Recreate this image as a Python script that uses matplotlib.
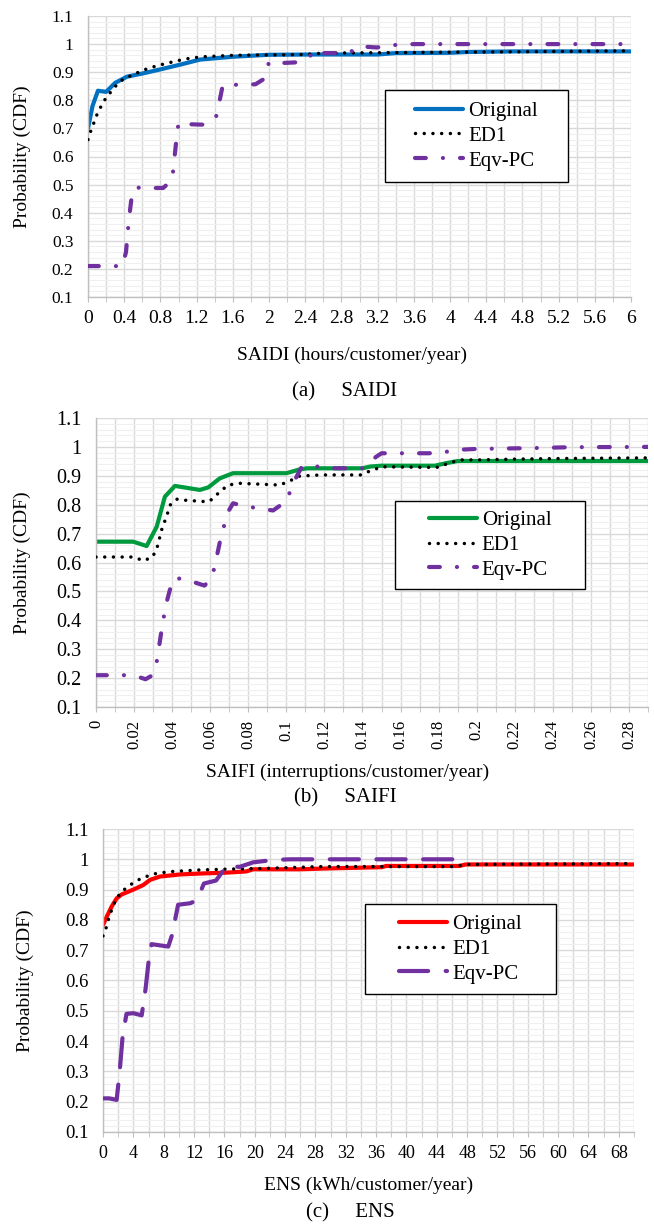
import matplotlib
matplotlib.use('Agg')
import matplotlib.pyplot as plt
from matplotlib.patches import Rectangle
from matplotlib.ticker import MultipleLocator, FuncFormatter

plt.rcParams['font.family'] = ['Liberation Serif', 'DejaVu Serif']

# ---- data ----
# (a) SAIDI
saidi_orig_x = [0, 0.05, 0.11, 0.2, 0.3, 0.43, 0.61, 0.8, 1.02, 1.24, 1.6, 2.0, 2.5, 3.2, 3.4, 4.0, 4.2, 4.7, 6.0]
saidi_orig_y = [0.70, 0.78, 0.834, 0.83, 0.862, 0.884, 0.896, 0.91, 0.927, 0.945, 0.955, 0.962, 0.963, 0.963, 0.968, 0.969, 0.972, 0.974, 0.974]
saidi_ed1_x = [0, 0.03, 0.1, 0.17, 0.24, 0.33, 0.41, 0.5, 0.58, 0.7, 0.8, 0.9, 1.02, 1.13, 1.27, 1.6, 2.4, 2.6, 4.0, 6.0]
saidi_ed1_y = [0.66, 0.69, 0.75, 0.795, 0.825, 0.86, 0.88, 0.89, 0.904, 0.917, 0.926, 0.934, 0.943, 0.95, 0.955, 0.96, 0.963, 0.968, 0.971, 0.976]
saidi_pc_x = [0, 0.2, 0.38, 0.42, 0.45, 0.48, 0.52, 0.6, 0.83, 0.93, 0.97, 1.0, 1.1, 1.3, 1.42, 1.49, 1.6, 1.85, 1.94, 2.0, 2.1, 2.3, 2.43, 2.52, 2.58, 2.75, 2.9, 3.0, 3.19, 3.4, 3.6, 6.0]
saidi_pc_y = [0.21, 0.21, 0.21, 0.26, 0.37, 0.45, 0.49, 0.488, 0.488, 0.516, 0.64, 0.72, 0.715, 0.713, 0.745, 0.855, 0.855, 0.857, 0.875, 0.935, 0.932, 0.935, 0.95, 0.98, 0.968, 0.968, 0.972, 0.992, 0.988, 0.997, 1.0, 1.0]

# (b) SAIFI
saifi_orig_x = [0, 0.0196, 0.0266, 0.0319, 0.0362, 0.0415, 0.0546, 0.059, 0.065, 0.072, 0.10, 0.107, 0.111, 0.14, 0.144, 0.15, 0.178, 0.185, 0.19, 0.29]
saifi_orig_y = [0.672, 0.672, 0.657, 0.724, 0.828, 0.865, 0.851, 0.86, 0.891, 0.909, 0.909, 0.922, 0.926, 0.926, 0.932, 0.935, 0.935, 0.945, 0.951, 0.951]
saifi_ed1_x = [0, 0.0196, 0.025, 0.0297, 0.032, 0.0347, 0.037, 0.039, 0.0425, 0.0475, 0.059, 0.0616, 0.065, 0.0695, 0.0756, 0.0966, 0.102, 0.107, 0.118, 0.139, 0.143, 0.15, 0.179, 0.186, 0.191, 0.2016, 0.2226, 0.249, 0.29]
saifi_ed1_y = [0.619, 0.619, 0.606, 0.619, 0.649, 0.718, 0.758, 0.799, 0.819, 0.815, 0.81, 0.822, 0.845, 0.868, 0.874, 0.868, 0.883, 0.899, 0.903, 0.903, 0.914, 0.931, 0.929, 0.945, 0.955, 0.955, 0.958, 0.96, 0.962]
saifi_pc_x = [0, 0.015, 0.022, 0.026, 0.0297, 0.032, 0.035, 0.037, 0.0402, 0.042, 0.05, 0.057, 0.061, 0.0628, 0.066, 0.0698, 0.072, 0.078, 0.093, 0.1, 0.104, 0.108, 0.113, 0.12, 0.14, 0.143, 0.147, 0.15, 0.175, 0.183, 0.19, 0.2, 0.23, 0.25, 0.29]
saifi_pc_y = [0.21, 0.21, 0.205, 0.196, 0.21, 0.26, 0.39, 0.46, 0.54, 0.547, 0.535, 0.52, 0.55, 0.6, 0.7, 0.78, 0.805, 0.795, 0.78, 0.812, 0.88, 0.93, 0.937, 0.926, 0.926, 0.94, 0.965, 0.978, 0.978, 0.982, 0.99, 0.993, 0.996, 0.999, 1.0]

# (c) ENS
ens_orig_x = [0, 0.48, 1.14, 1.8, 2.46, 4.0, 5.3, 6.2, 7.5, 10.1, 12.8, 16.3, 18.9, 19.8, 25.9, 29.9, 36.8, 37.3, 47.0, 47.8, 70]
ens_orig_y = [0.783, 0.81, 0.844, 0.871, 0.884, 0.9, 0.915, 0.932, 0.943, 0.95, 0.953, 0.956, 0.96, 0.967, 0.967, 0.97, 0.974, 0.978, 0.978, 0.983, 0.983]
ens_ed1_x = [0, 0.39, 0.7, 1.14, 1.7, 2.46, 3.3, 4.2, 5.3, 7.1, 9.25, 12.8, 17.1, 21.5, 28.9, 46, 48, 70]
ens_ed1_y = [0.747, 0.772, 0.8, 0.833, 0.868, 0.893, 0.91, 0.926, 0.94, 0.954, 0.96, 0.965, 0.968, 0.97, 0.976, 0.976, 0.983, 0.986]
ens_pc_x = [0, 0.8, 1.8, 2.2, 2.6, 3.1, 4.0, 5.1, 5.6, 6.0, 6.4, 8.6, 9.1, 9.9, 11.5, 12.4, 13.3, 14.9, 16.3, 18.0, 19.8, 21.5, 22.5, 24.7, 47.4]
ens_pc_y = [0.211, 0.211, 0.206, 0.3, 0.42, 0.49, 0.492, 0.485, 0.57, 0.66, 0.72, 0.712, 0.75, 0.85, 0.855, 0.865, 0.92, 0.93, 0.978, 0.975, 0.99, 0.995, 0.998, 1.0, 1.0]

series_names = ['Original', 'ED1', 'Eqv-PC']
purple = '#7030A0'

W, H = 654, 1225
fig = plt.figure(figsize=(W / 100, H / 100), dpi=100)


def px_axes(left, top, right, bottom):
    return fig.add_axes([left / W, 1 - bottom / H, (right - left) / W, (bottom - top) / H])


def style_axes(ax, xmax, xmajor, xminor, xfont, yfont, xrot=0):
    ax.set_xlim(0, xmax)
    ax.set_ylim(0.1, 1.1)
    ax.xaxis.set_major_locator(MultipleLocator(xmajor))
    ax.xaxis.set_minor_locator(MultipleLocator(xminor))
    ax.yaxis.set_major_locator(MultipleLocator(0.1))
    ax.yaxis.set_minor_locator(MultipleLocator(0.02))
    fmt = FuncFormatter(lambda v, p: '%g' % round(v, 4))
    ax.xaxis.set_major_formatter(fmt)
    ax.yaxis.set_major_formatter(fmt)
    ax.grid(True, which='major', axis='both', color='#D9D9D9', lw=1.0, zorder=0)
    ax.grid(True, which='minor', axis='x', color='#D9D9D9', lw=1.0, zorder=0)
    ax.grid(True, which='minor', axis='y', color='#EFEFEF', lw=0.8, zorder=0)
    ax.set_axisbelow(True)
    for s in ['top', 'right']:
        ax.spines[s].set_visible(False)
    for s in ['left', 'bottom']:
        ax.spines[s].set_color('#BFBFBF')
        ax.spines[s].set_linewidth(1.0)
    ax.tick_params(axis='y', which='both', length=0, pad=10.5, labelsize=yfont)
    ax.tick_params(axis='x', which='both', length=3.6, color='#BFBFBF', direction='out',
                   pad=5.5, labelsize=xfont, labelrotation=xrot)


def add_legend(ax, handles, box):
    x0, y0, x1, y1 = box
    ax.add_patch(Rectangle((x0, y0), x1 - x0, y1 - y0, transform=ax.transAxes,
                           facecolor='white', edgecolor='black', lw=1.0, zorder=5))
    leg = ax.legend(handles, series_names, loc='center', frameon=False,
                    bbox_to_anchor=((x0 + x1) / 2, (y0 + y1) / 2), fontsize=15,
                    handlelength=2.3, handletextpad=0.25, labelspacing=0.25)
    leg.set_zorder(6)


def draw(ax, ox, oy, ex, ey, px, py, color, pc_dashes):
    l1, = ax.plot(ox, oy, color=color, lw=3.0, solid_capstyle='round', zorder=2)
    l2, = ax.plot(ex, ey, color='black', lw=2.5, dashes=(0.01, 2.5),
                  dash_capstyle='round', zorder=3)
    l3, = ax.plot(px, py, color=purple, lw=3.0, dashes=pc_dashes,
                  dash_capstyle='round', zorder=4)
    return [l1, l2, l3]


dashdot = (2.6, 4.1, 0.01, 4.1)
longdash = (7.0, 4.2)

# (a)
ax1 = px_axes(88, 16, 631, 297)
style_axes(ax1, 6, 0.4, 0.2, 14, 12.5)
h = draw(ax1, saidi_orig_x, saidi_orig_y, saidi_ed1_x, saidi_ed1_y,
         saidi_pc_x, saidi_pc_y, '#0070C0', dashdot)
add_legend(ax1, h, (0.547, 0.409, 0.884, 0.737))
ax1.set_xlabel('SAIDI (hours/customer/year)', fontsize=14, va='center')
ax1.xaxis.set_label_coords(0.486, -58 / 281)
ax1.set_ylabel('Probability (CDF)', fontsize=14, va='center')
ax1.yaxis.set_label_coords(-66 / 543, 0.5)
fig.text(345 / W, 1 - 392 / H, '(a)     SAIDI', ha='center', va='center', fontsize=15)

# (b)
ax2 = px_axes(96, 418, 648, 707)
style_axes(ax2, 0.29, 0.02, 0.01, 12, 14.5, xrot=90)
h = draw(ax2, saifi_orig_x, saifi_orig_y, saifi_ed1_x, saifi_ed1_y,
         saifi_pc_x, saifi_pc_y, '#009A3E', dashdot)
add_legend(ax2, h, (0.5417, 0.408, 0.886, 0.7128))
ax2.set_xlabel('SAIFI (interruptions/customer/year)', fontsize=14, va='center')
ax2.xaxis.set_label_coords(0.455, -65 / 289)
ax2.set_ylabel('Probability (CDF)', fontsize=14, va='center')
ax2.yaxis.set_label_coords(-74 / 552, 0.5)
fig.text(345 / W, 1 - 798 / H, '(b)     SAIFI', ha='center', va='center', fontsize=15)

# (c)
ax3 = px_axes(103, 829, 634, 1132)
style_axes(ax3, 70, 4, 2, 13, 13.5)
h = draw(ax3, ens_orig_x, ens_orig_y, ens_ed1_x, ens_ed1_y,
         ens_pc_x, ens_pc_y, '#FF0000', longdash)
add_legend(ax3, h, (0.4934, 0.4554, 0.853, 0.7525))
ax3.set_xlabel('ENS (kWh/customer/year)', fontsize=14, va='center')
ax3.xaxis.set_label_coords(0.5, -53 / 303)
ax3.set_ylabel('Probability (CDF)', fontsize=14, va='center')
ax3.yaxis.set_label_coords(-78 / 531, 0.5)
fig.text(350 / W, 1 - 1213 / H, '(c)     ENS', ha='center', va='center', fontsize=15)

fig.savefig('out.png', dpi=100)
